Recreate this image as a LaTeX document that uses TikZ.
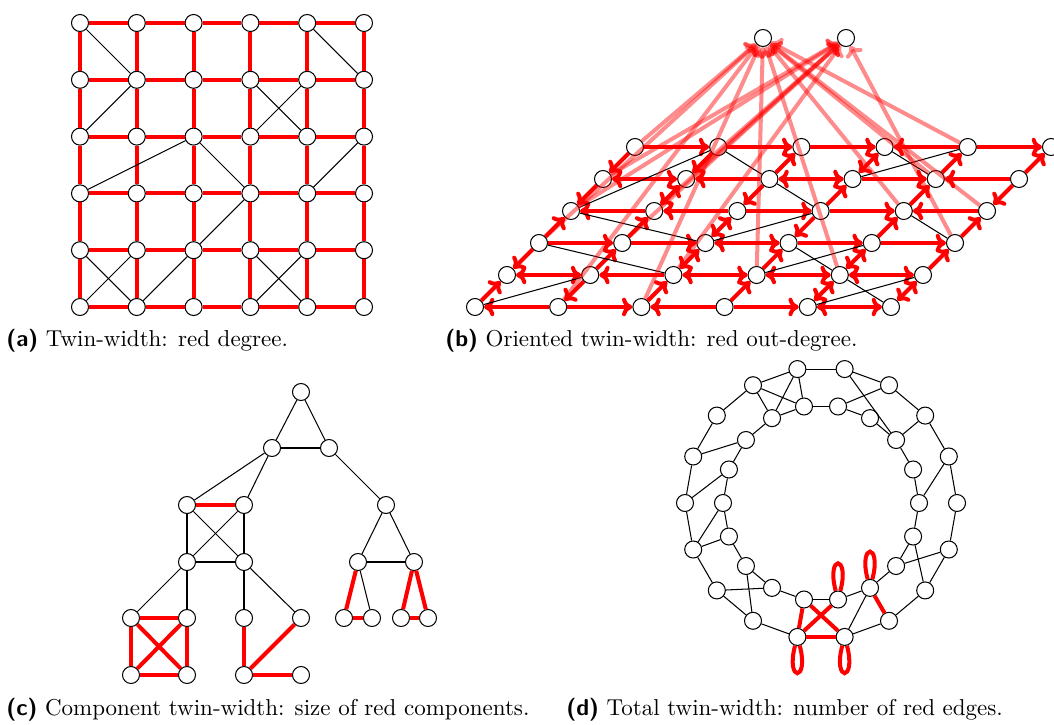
\documentclass[tikz,border=0pt]{standalone}
\usetikzlibrary{arrows.meta}
\begin{document}
\begin{tikzpicture}[x=0.435pt,y=-0.435pt,
  v/.style={circle,draw,fill=white,inner sep=0pt,minimum size=7.4pt,line width=0.45pt},
  re/.style={draw=red,line width=1.75pt},
  bk/.style={draw=black,line width=0.45pt},
  rtip/.tip={Computer Modern Rightarrow[length=4.5pt,width=8pt]},
  fw/.style={re,-{rtip}},
  bi/.style={re,{rtip}-{rtip}},
  pk/.style={re,-{rtip},opacity=0.45},
  captxt/.style={anchor=base west,inner sep=0pt}]
\useasboundingbox (0,0) rectangle (1054,724);

% ---------------- (a) ----------------
\foreach \i in {0,...,5} \foreach \j in {0,...,5}
  \node[v] (A\i\j) at ({80+56.8*\i},{23+56.8*\j}) {};
\foreach \i [evaluate=\i as \ii using int(\i+1)] in {0,...,4}
  \foreach \j in {0,...,5} {
    \draw[re] (A\i\j) -- (A\ii\j);
    \draw[re] (A\j\i) -- (A\j\ii);
  }
\foreach \a/\b in {00/11,40/51,02/11,31/42,32/41,03/22,22/33,52/43,33/24,04/15,05/14,15/24,34/45,35/44}
  \draw[bk] (A\a) -- (A\b);

% ---------------- (b) ----------------
\foreach \i in {0,...,5} \foreach \j in {0,...,5}
  \node[v] (B\i\j) at ({475+83.2*\i+32*\j},{307-32*\j}) {};
\node[v] (T1) at (763,38) {};
\node[v] (T2) at (846,38) {};
% horizontal
\draw[fw] (B10) -- (B00); \draw[fw] (B10) -- (B20); \draw[fw] (B30) -- (B20);
\draw[fw] (B30) -- (B40); \draw[bi] (B40) -- (B50);
\draw[bi] (B01) -- (B11); \draw[fw] (B21) -- (B11); \draw[bi] (B21) -- (B31);
\draw[bi] (B31) -- (B41); \draw[bi] (B41) -- (B51);
\draw[fw] (B02) -- (B12); \draw[fw] (B12) -- (B22); \draw[bi] (B22) -- (B32);
\draw[fw] (B32) -- (B42); \draw[fw] (B42) -- (B52);
\draw[fw] (B13) -- (B03); \draw[fw] (B23) -- (B13); \draw[fw] (B23) -- (B33);
\draw[fw] (B33) -- (B43); \draw[fw] (B53) -- (B43);
\draw[bi] (B04) -- (B14); \draw[fw] (B24) -- (B14); \draw[bi] (B24) -- (B34);
\draw[fw] (B34) -- (B44); \draw[fw] (B54) -- (B44);
\draw[fw] (B05) -- (B15); \draw[fw] (B15) -- (B25); \draw[fw] (B25) -- (B35);
\draw[fw] (B45) -- (B35); \draw[fw] (B45) -- (B55);
% diagonal
\draw[fw] (B00) -- (B01); \draw[fw] (B02) -- (B01); \draw[fw] (B02) -- (B03);
\draw[fw] (B04) -- (B03); \draw[fw] (B05) -- (B04);
\draw[fw] (B11) -- (B10); \draw[fw] (B11) -- (B12); \draw[fw] (B12) -- (B13);
\draw[bi] (B13) -- (B14); \draw[fw] (B15) -- (B14);
\draw[fw] (B20) -- (B21); \draw[bi] (B21) -- (B22); \draw[bi] (B22) -- (B23);
\draw[fw] (B24) -- (B23); \draw[fw] (B24) -- (B25);
\draw[fw] (B30) -- (B31); \draw[fw] (B31) -- (B32); \draw[fw] (B33) -- (B32);
\draw[fw] (B33) -- (B34); \draw[bi] (B34) -- (B35);
\draw[bi] (B40) -- (B41); \draw[bi] (B41) -- (B42); \draw[fw] (B42) -- (B43);
\draw[fw] (B43) -- (B44); \draw[fw] (B44) -- (B45);
\draw[bi] (B50) -- (B51); \draw[fw] (B51) -- (B52); \draw[fw] (B52) -- (B53);
\draw[fw] (B54) -- (B53); \draw[fw] (B54) -- (B55);
% black
\foreach \a/\b in {00/11,02/21,03/22,03/15,15/24,24/33,22/33,31/42,32/41,41/50,40/51,43/52,34/45,35/44}
  \draw[bk] (B\a) -- (B\b);
% translucent
\foreach \s in {05,02,10,20,31,41,43,44,45,53} \draw[pk] (B\s) -- (T1);
\foreach \s in {04,03,12,13,14,21,52} \draw[pk] (B\s) -- (T2);

% ---------------- (c) ----------------
\foreach \n/\x/\y in {1/301/392, 2/272/448, 3/329/448, 4/187/505, 5/244/505, 6/386/505,
  7/187/562, 8/244/562, 9/358/562, 10/414/562,
  11/131/618, 12/187/618, 13/244/618, 14/301/618, 15/344/618, 16/372/618, 17/401/618, 18/428/618,
  19/131/675, 20/187/675, 21/244/675, 22/301/675}
  \node[v] (c\n) at (\x,\y) {};
\foreach \a/\b in {1/2,1/3,2/3,2/4,2/5,3/6,4/7,5/8,4/8,5/7,7/8,7/11,7/12,8/13,8/14,6/9,6/10,9/10,9/16}
  \draw[bk] (c\a) -- (c\b);
\foreach \a/\b in {4/5,11/12,11/19,11/20,12/19,12/20,19/20,13/21,14/21,21/22,9/15,15/16,10/17,10/18,17/18}
  \draw[re] (c\a) -- (c\b);

% ---------------- (d) ----------------
\foreach \k in {0,...,17} {
  \node[v] (do\k) at ({821+136*cos(20*\k)},{503-136*sin(20*\k)}) {};
  \node[v] (di\k) at ({821+98*cos(20*\k)},{503-98*sin(20*\k)}) {};
}
\foreach \k [evaluate=\k as \kk using {int(mod(\k+1,18))}] in {0,...,17} {
  \draw[bk] (di\k) -- (di\kk);
}
\foreach \k [evaluate=\k as \kk using {int(\k+1)}] in {0,...,12,14,15,16}
  \draw[bk] (do\k) -- (do\kk);
\draw[bk] (do17) -- (do0);
\foreach \a/\b in {6/5,6/6,5/6,5/5,4/2,3/4,2/2,8/7,9/8,10/9,10/10,11/12,12/11,1/0,17/16,16/17,14/15}
  \draw[bk] (do\a) -- (di\b);
\draw[re] (do13) -- (do14);
\draw[re] (do15) -- (di15);
\draw[re] (do13) -- (di13);
\draw[re] (do13) -- (di14);
\draw[re] (do14) -- (di13);
% self loops (y axis points down, so polar angles are mirrored)
\draw[re] (do13.-75) .. controls +(75:38) and +(105:38) .. (do13.-105);
\draw[re] (do14.-75) .. controls +(75:38) and +(105:38) .. (do14.-105);
\draw[re] (di14.75) .. controls +(-75:38) and +(-105:38) .. (di14.105);
\draw[re] (di15.75) .. controls +(-75:38) and +(-105:38) .. (di15.105);

% ---------------- captions ----------------
\node[captxt] (capa) at (6,346) {\textsf{\bfseries (a)} Twin-width: red degree.};
\node[captxt] (capb) at (445,346) {\textsf{\bfseries (b)} Oriented twin-width: red out-degree.};
\node[captxt] (capc) at (6,715) {\textsf{\bfseries (c)} Component twin-width: size of red components.};
\node[captxt] (capd) at (566,715) {\textsf{\bfseries (d)} Total twin-width: number of red edges.};
\end{tikzpicture}
\end{document}
